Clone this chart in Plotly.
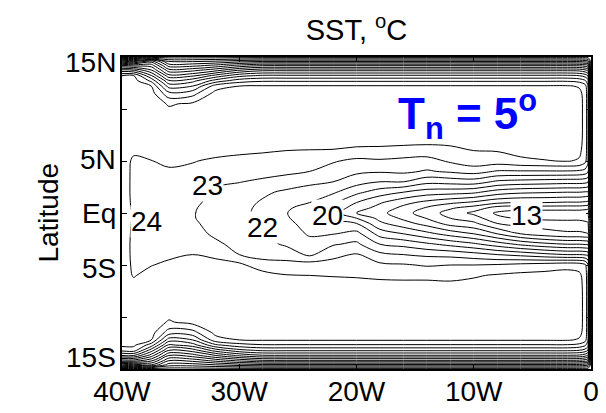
import plotly.graph_objects as go
import numpy as np

# Longitudes (deg, negative = W) and latitudes (deg, negative = S) of the SST grid
lon = [-40, -39, -37.5, -36, -34, -32, -30, -28, -26, -24, -22, -20, -18, -16,
       -14, -12, -10, -8, -6, -4, -2, -1, -0.5, -0.25, 0]
lat = [15, 14.6, 14.2, 13.7, 13.2, 12.7, 12.2, 11.5, 10.5,
       9.5, 8, 7, 6, 5, 4, 3, 2, 1, 0.5, 0, -0.5, -1, -2, -3, -4, -5, -6, -7, -8, -9.5,
       -10.5, -11.5, -12.2, -12.7, -13.2, -13.7, -14.2, -14.6, -15]

# SST (deg C) along each meridian, listed north to south
sst_40W = [9.5, 14, 18, 21.5, 24.0, 24.3, 24.35, 24.35, 24.35,
           24.35, 24.3, 24.3, 24.3, 24.28, 24.26, 24.25, 24.25, 24.25, 24.25, 24.25, 24.25, 24.25, 24.25, 24.25, 24.26, 24.28, 24.3, 24.3, 24.3, 24.35,
           24.35, 24.35, 24.3, 24.25, 23.3, 21, 17.5, 14, 9.5]
sst_39W = [9.5, 13.5, 17.5, 21.2, 24.05, 24.4, 24.45, 24.45, 24.4,
           24.4, 24.4, 24.3, 24.1, 23.9, 23.88, 23.88, 23.88, 23.9, 23.92, 23.95, 23.95, 23.93, 23.9, 23.88, 23.88, 23.9, 23.95, 24.2, 24.4, 24.4,
           24.45, 24.45, 24.4, 24.2, 23.5, 21, 17.5, 13.5, 9.5]
sst_37p5W = [9.5, 15.5, 17.5, 19.2, 21.1, 22.8, 24.0, 24.4, 24.5,
             24.5, 24.45, 24.4, 24.25, 23.98, 23.9, 23.87, 23.85, 23.84, 23.83, 23.83, 23.83, 23.84, 23.85, 23.87, 23.9, 23.97, 24.25, 24.4, 24.45, 24.5,
             24.5, 24.4, 24.0, 22.5, 20.5, 18.5, 16.2, 14, 9.5]
sst_36W = [9.5, 11.8, 13.5, 15.5, 17.4, 19.2, 20.6, 22.3, 23.9,
           24.3, 24.45, 24.5, 24.4, 24.15, 23.9, 23.75, 23.65, 23.6, 23.56, 23.55, 23.55, 23.58, 23.62, 23.7, 23.85, 24.15, 24.35, 24.45, 24.45, 24.35,
           23.9, 22.5, 20.5, 18.8, 17, 15, 13, 11.5, 9.5]
sst_34W = [9.5, 11.8, 13.6, 15.8, 17.8, 19.7, 21, 22.6, 24.15,
           24.4, 24.45, 24.5, 24.4, 24.05, 23.8, 23.5, 23.3, 23.15, 23.08, 23.05, 23.05, 23.1, 23.3, 23.6, 24.0, 24.35, 24.45, 24.5, 24.45, 24.45,
           24.3, 22.6, 21, 19.5, 17.5, 15.5, 13.3, 11.5, 9.5]
sst_32W = [9.5, 12, 14.2, 16.8, 19.4, 21.5, 23.5, 24.35, 24.5,
           24.5, 24.5, 24.5, 24.3, 23.85, 23.45, 23.1, 22.9, 22.78, 22.72, 22.7, 22.72, 22.78, 22.85, 23.15, 23.8, 24.3, 24.5, 24.5, 24.5, 24.5,
           24.5, 24.3, 23.6, 21.8, 19.5, 17, 14.3, 12, 9.5]
sst_30W = [9.5, 12.5, 15.2, 18.2, 20.7, 22.6, 24.0, 24.4, 24.5,
           24.5, 24.5, 24.4, 24.15, 23.78, 23.4, 23.03, 22.65, 22.4, 22.33, 22.3, 22.33, 22.4, 22.55, 22.75, 23.0, 24.25, 24.45, 24.5, 24.5, 24.5,
           24.5, 24.4, 24.0, 22.6, 20.7, 18.2, 15.2, 12.5, 9.5]
sst_28W = [9.5, 12.8, 15.8, 18.9, 21.2, 22.9, 24.1, 24.4, 24.5,
           24.5, 24.5, 24.4, 24.1, 23.65, 23.3, 22.85, 22.2, 21.87, 21.75, 21.7, 21.75, 21.82, 22.05, 22.35, 22.7, 23.35, 24.45, 24.5, 24.5, 24.5,
           24.5, 24.4, 24.1, 22.9, 21.2, 18.9, 15.8, 12.8, 9.5]
sst_26W = [9.5, 12.8, 15.8, 18.9, 21.2, 22.9, 24.1, 24.4, 24.5,
           24.5, 24.5, 24.4, 24.0, 23.6, 23.2, 22.6, 21.8, 21.4, 21.2, 21.05, 21.1, 21.2, 21.45, 21.85, 22.6, 23.3, 24.05, 24.4, 24.5, 24.5,
           24.5, 24.4, 24.1, 22.9, 21.2, 18.9, 15.8, 12.8, 9.5]
sst_24W = [9.5, 12.8, 15.8, 18.9, 21.2, 22.9, 24.1, 24.4, 24.5,
           24.5, 24.5, 24.35, 23.97, 23.5, 23.0, 22.2, 21.6, 21.0, 20.5, 20.3, 20.5, 20.7, 20.9, 21.3, 21.8, 23.5, 24.0, 24.4, 24.5, 24.5,
           24.5, 24.4, 24.1, 22.9, 21.2, 18.9, 15.8, 12.8, 9.5]
sst_22W = [9.5, 12.8, 15.8, 18.9, 21.2, 22.9, 24.1, 24.4, 24.5,
           24.5, 24.5, 24.35, 23.95, 23.1, 22.55, 22.0, 21.15, 20.15, 19.7, 19.4, 19.8, 20.3, 20.95, 21.9, 22.75, 23.35, 23.95, 24.35, 24.5, 24.5,
           24.5, 24.4, 24.1, 22.9, 21.2, 18.9, 15.8, 12.8, 9.5]
sst_20W = [9.5, 12.8, 15.8, 18.9, 21.2, 22.9, 24.1, 24.4, 24.5,
           24.5, 24.5, 24.35, 23.8, 22.75, 22.2, 21.4, 20.25, 19.0, 18.5, 18.0, 19.0, 20.0, 21.35, 22.2, 23.1, 23.5, 23.9, 24.35, 24.5, 24.5,
           24.5, 24.4, 24.1, 22.9, 21.2, 18.9, 15.8, 12.8, 9.5]
sst_18W = [9.5, 12.8, 15.8, 18.9, 21.2, 22.9, 24.1, 24.4, 24.5,
           24.5, 24.5, 24.3, 23.8, 22.85, 22.1, 21.0, 19.5, 18.1, 17.65, 17.3, 17.7, 18.2, 19.6, 21.0, 22.25, 23.2, 23.8, 24.3, 24.5, 24.5,
           24.5, 24.4, 24.1, 22.9, 21.2, 18.9, 15.8, 12.8, 9.5]
sst_16W = [9.5, 12.8, 15.8, 18.9, 21.2, 22.9, 24.1, 24.4, 24.5,
           24.5, 24.5, 24.3, 23.7, 22.7, 22.2, 21.0, 19.0, 17.3, 16.75, 16.35, 16.8, 17.4, 19.0, 20.7, 22.0, 23.1, 23.75, 24.3, 24.5, 24.5,
           24.5, 24.4, 24.1, 22.9, 21.2, 18.9, 15.8, 12.8, 9.5]
sst_14W = [9.5, 12.8, 15.8, 18.9, 21.2, 22.9, 24.1, 24.4, 24.5,
           24.5, 24.5, 24.3, 23.6, 22.6, 21.9, 20.3, 18.5, 16.7, 15.9, 15.5, 15.95, 16.6, 18.3, 20.2, 21.8, 22.9, 23.75, 24.3, 24.5, 24.5,
           24.5, 24.4, 24.1, 22.9, 21.2, 18.9, 15.8, 12.8, 9.5]
sst_12W = [9.5, 12.8, 15.8, 18.9, 21.2, 22.9, 24.1, 24.4, 24.5,
           24.5, 24.5, 24.3, 23.75, 23.15, 22.15, 20.4, 18.4, 16.2, 15.15, 14.6, 15.0, 15.6, 17.6, 19.7, 21.7, 23.0, 23.7, 24.25, 24.5, 24.5,
           24.5, 24.4, 24.1, 22.9, 21.2, 18.9, 15.8, 12.8, 9.5]
sst_10W = [9.5, 12.8, 15.8, 18.9, 21.2, 22.9, 24.1, 24.4, 24.5,
           24.5, 24.5, 24.3, 24.0, 23.6, 22.4, 20.5, 18.2, 15.8, 14.6, 13.75, 14.5, 15.2, 17.0, 19.2, 21.4, 23.0, 23.9, 24.3, 24.5, 24.5,
           24.5, 24.4, 24.1, 22.9, 21.2, 18.9, 15.8, 12.8, 9.5]
sst_8W = [9.5, 12.8, 15.8, 18.9, 21.2, 22.9, 24.1, 24.4, 24.5,
          24.5, 24.5, 24.35, 24.05, 23.5, 21.9, 19.8, 17.5, 15.2, 13.6, 12.85, 13.2, 14.0, 16.0, 18.5, 21.0, 23.1, 24.1, 24.4, 24.5, 24.5,
          24.5, 24.4, 24.1, 22.9, 21.2, 18.9, 15.8, 12.8, 9.5]
sst_6W = [9.5, 12.8, 15.8, 18.9, 21.2, 22.9, 24.1, 24.4, 24.5,
          24.5, 24.5, 24.4, 24.3, 23.8, 21.9, 19.6, 17.2, 15.0, 13.4, 12.5, 12.9, 13.6, 15.0, 17.8, 20.7, 23.3, 24.25, 24.4, 24.5, 24.5,
          24.5, 24.4, 24.1, 22.9, 21.2, 18.9, 15.8, 12.8, 9.5]
sst_4W = [9.5, 12.8, 15.8, 18.9, 21.2, 22.9, 24.1, 24.4, 24.5,
          24.5, 24.5, 24.45, 24.35, 23.95, 21.9, 19.5, 17.1, 15.0, 13.5, 12.4, 12.8, 13.4, 14.5, 17.3, 20.3, 23.5, 24.3, 24.45, 24.5, 24.5,
          24.5, 24.4, 24.1, 22.9, 21.2, 18.9, 15.8, 12.8, 9.5]
sst_2W = [9.5, 12.8, 15.8, 18.9, 21.2, 22.9, 24.1, 24.4, 24.5,
          24.5, 24.5, 24.45, 24.4, 24.05, 21.9, 19.4, 17.0, 14.9, 13.5, 12.4, 12.8, 13.3, 14.2, 17.0, 20.0, 23.7, 24.35, 24.45, 24.5, 24.5,
          24.5, 24.4, 24.1, 22.9, 21.2, 18.9, 15.8, 12.8, 9.5]
sst_1W = [9.5, 12.7, 15.7, 18.8, 21.0, 22.7, 23.9, 24.25, 24.35,
          24.35, 24.35, 24.3, 24.2, 23.9, 21.8, 19.4, 17.0, 14.9, 13.5, 12.4, 12.8, 13.3, 14.2, 17.0, 20.0, 23.6, 24.2, 24.3, 24.35, 24.35,
          24.35, 24.25, 23.9, 22.7, 21.0, 18.8, 15.7, 12.7, 9.5]
sst_0p5W = [9.5, 12.5, 15.4, 18.4, 20.6, 22.2, 23.4, 23.65, 23.7,
            23.7, 23.7, 23.7, 23.6, 23.3, 21.6, 19.3, 16.9, 14.8, 13.4, 12.3, 12.7, 13.2, 14.1, 16.9, 19.9, 23.2, 23.6, 23.7, 23.7, 23.7,
            23.7, 23.65, 23.4, 22.2, 20.6, 18.4, 15.4, 12.5, 9.5]
sst_0p25W = [9.5, 12.2, 15, 17.8, 19.9, 21.4, 22.1, 22.3, 22.3,
             22.3, 22.3, 22.3, 22.3, 22.2, 21.2, 19.1, 16.8, 14.7, 13.3, 12.2, 12.6, 13.1, 14.0, 16.8, 19.7, 22.2, 22.3, 22.3, 22.3, 22.3,
             22.3, 22.3, 22.1, 21.4, 19.9, 17.8, 15, 12.2, 9.5]
sst_0 = [9.5] * 39

columns = [sst_40W, sst_39W, sst_37p5W, sst_36W, sst_34W, sst_32W, sst_30W, sst_28W,
           sst_26W, sst_24W, sst_22W, sst_20W, sst_18W, sst_16W, sst_14W, sst_12W,
           sst_10W, sst_8W, sst_6W, sst_4W, sst_2W, sst_1W, sst_0p5W, sst_0p25W, sst_0]

# rows = latitude, columns = longitude; flip so latitude increases
z = np.array(columns).T[::-1]
lat_up = lat[::-1]

# contour labels: (value, lon, lat)
label_vals = ["24", "23", "22", "20", "13"]
label_lon = [-37.95, -32.67, -28.06, -22.5, -5.46]
label_lat = [-0.77, 2.6, -1.44, -0.2, -0.2]

x_ticks = [-40, -30, -20, -10, 0]
x_text = ["40W", "30W", "20W", "10W", "0"]
y_ticks = [-15, -10, -5, 0, 5, 10, 15]
# latitude labels and the latitude at which each is centred
y_label_text = ["15N", "5N", "Eq", "5S", "15S"]
y_label_pos = [14.5, 5.1, 0, -5.3, -13.9]

FONT = "Liberation Sans, Arial, Helvetica, sans-serif"

fig = go.Figure()
fig.add_trace(go.Contour(
    x=lon, y=lat_up, z=z,
    contours=dict(start=10, end=24, size=1, coloring="lines", showlabels=False),
    colorscale=[[0, "black"], [1, "black"]],
    line=dict(width=1, smoothing=1.0),
    showscale=False, hoverinfo="skip",
))

annotations = []
for v, x, y in zip(label_vals, label_lon, label_lat):
    annotations.append(dict(x=x, y=y, xref="x", yref="y", text=v, showarrow=False,
                            font=dict(family=FONT, size=28, color="black"),
                            bgcolor="white", borderpad=0))

for t, y in zip(y_label_text, y_label_pos):
    annotations.append(dict(x=0, y=y, xref="paper", yref="y", text=t, showarrow=False,
                            xanchor="right", yanchor="middle", xshift=-4,
                            font=dict(family=FONT, size=28, color="black")))

annotations.append(dict(x=-10.57, y=9.5, xref="x", yref="y",
                        text="<b>T<sub>n</sub> = 5<sup>o</sup></b>", showarrow=False,
                        font=dict(family=FONT, size=44, color="#0000ff")))
annotations.append(dict(x=-0.196, y=0.5, xref="paper", yref="paper", text="Latitude",
                        textangle=-90, showarrow=False,
                        font=dict(family=FONT, size=28, color="black")))

fig.update_layout(
    width=606, height=413,
    margin=dict(l=122, r=15, t=57, b=44, autoexpand=False),
    paper_bgcolor="white", plot_bgcolor="white",
    title=dict(text="SST, <sup>o</sup>C", x=0.5, xref="paper", xanchor="center",
               y=1 - 30 / 413, yanchor="middle",
               font=dict(family=FONT, size=29, color="black")),
    annotations=annotations,
    showlegend=False,
)
fig.update_xaxes(range=[-40, 0], tickvals=x_ticks, ticktext=x_text,
                 ticks="inside", ticklen=5, tickwidth=1, tickcolor="black",
                 showline=True, linecolor="black", linewidth=1.6, mirror="ticks",
                 showgrid=False, zeroline=False, ticklabelstandoff=-3, automargin=False,
                 tickfont=dict(family=FONT, size=28, color="black"))
fig.update_yaxes(range=[-15, 15], tickvals=y_ticks, showticklabels=False,
                 ticks="inside", ticklen=5, tickwidth=1, tickcolor="black",
                 showline=True, linecolor="black", linewidth=1.6, mirror="ticks",
                 showgrid=False, zeroline=False, automargin=False)

fig.write_html("out.html")
